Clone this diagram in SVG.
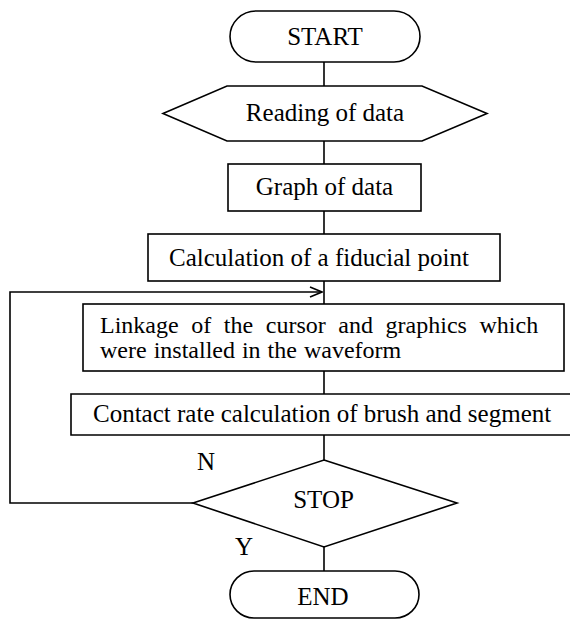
<svg xmlns="http://www.w3.org/2000/svg" width="570" height="619" viewBox="0 0 570 619">
<defs>
<style>
.s{fill:#fff;stroke:#000;stroke-width:1.6}
.c{fill:none;stroke:#000;stroke-width:1.6}
text{font-family:"Liberation Serif","Times New Roman",serif;font-size:25px;fill:#000}
.m{text-anchor:middle}
.l{font-size:24px}
</style>
<marker id="ah" markerWidth="14" markerHeight="12" refX="13" refY="6" orient="auto" markerUnits="userSpaceOnUse">
<path d="M1,1 L13,6 L1,11" fill="none" stroke="#000" stroke-width="1.6"/>
</marker>
</defs>
<g id="connectors">
<line class="c" x1="324" y1="62" x2="324" y2="86"/>
<line class="c" x1="324" y1="141" x2="324" y2="164"/>
<line class="c" x1="324" y1="211" x2="324" y2="234"/>
<line class="c" x1="324" y1="281" x2="324" y2="304"/>
<line class="c" x1="324" y1="371" x2="324" y2="394"/>
<line class="c" x1="324" y1="435" x2="324" y2="460"/>
<line class="c" x1="324" y1="547" x2="324" y2="571"/>
<polyline class="c" points="193,503 10,503 10,292 322,292" marker-end="url(#ah)"/>
</g>
<g id="start">
<rect class="s" x="230" y="11" width="190" height="51" rx="26" ry="25.5"/>
<text class="m" x="325" y="45">START</text>
</g>
<g id="read">
<polygon class="s" points="163,113.5 227,86 422,86 487,113.5 422,141 227,141"/>
<text class="m" x="325" y="121" font-size="26">Reading of data</text>
</g>
<g id="graph">
<rect class="s" x="228" y="164" width="193" height="47"/>
<text class="m" x="324.5" y="195">Graph of data</text>
</g>
<g id="calc">
<rect class="s" x="148" y="234" width="352" height="47"/>
<text class="m" x="319" y="266">Calculation of a fiducial point</text>
</g>
<g id="linkage">
<rect class="s" x="83" y="304" width="481" height="67"/>
<text class="l" x="100" y="333" word-spacing="6.6">Linkage of the cursor and graphics which</text>
<text class="l" x="100" y="358" word-spacing="1">were installed in the waveform</text>
</g>
<g id="contact">
<path class="s" d="M575,394 L71,394 L71,435 L575,435"/>
<text x="93" y="422">Contact rate calculation of brush and segment</text>
</g>
<g id="stop">
<polygon class="s" points="324,460 457,503 324,547 193,503"/>
<text class="m" x="323.5" y="508">STOP</text>
</g>
<g id="labels">
<text x="197" y="470">N</text>
<text x="235" y="555">Y</text>
</g>
<g id="end">
<rect class="s" x="230" y="571" width="189" height="47" rx="24" ry="23.5"/>
<text class="m" x="323" y="605">END</text>
</g>
</svg>
